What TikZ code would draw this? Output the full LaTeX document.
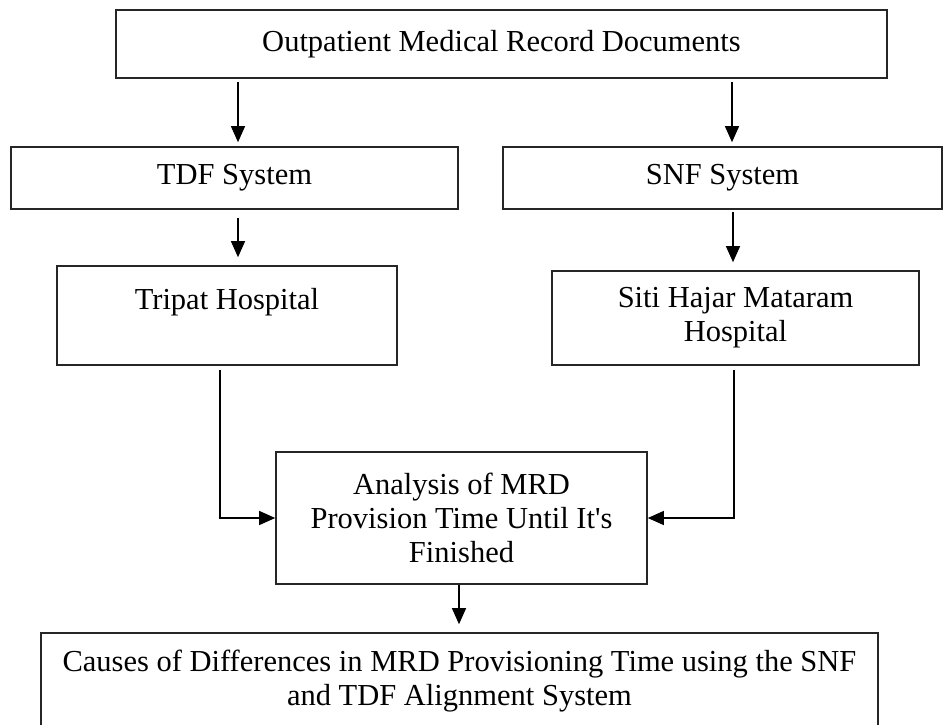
\documentclass[tikz,border=0pt]{standalone}
\usepackage{fontspec}
\setmainfont{Liberation Serif}
\usetikzlibrary{arrows.meta, positioning}

\begin{document}
\begin{tikzpicture}[x=1pt, y=-1pt,
    box/.style={draw=black!85, line width=1.6pt, align=center, inner sep=0pt,
                font=\fontsize{30.5}{34}\selectfont},
    arr/.style={draw=black, line width=1.2pt, -{Triangle[length=16pt,width=14pt]}}]
    \useasboundingbox (0,0) rectangle (944,724);
    \clip (0,0) rectangle (944,724);
    % boxes
    \node [box, minimum width=771pt, minimum height=68pt] (docs) at (501.5,44) {Outpatient Medical Record Documents};
    \node [box, minimum width=447pt, minimum height=62pt] (tdf) at (234.5,178) {TDF System};
    \node [box, minimum width=439pt, minimum height=62pt] (snf) at (722.5,178) {SNF System};
    \node [box, minimum width=340pt, minimum height=99pt] (tripat) at (227,315.5) {Tripat Hospital\\ \mbox{}};
    \node [box, minimum width=367pt, minimum height=94pt] (siti) at (735.5,318) {Siti Hajar Mataram\\Hospital};
    \node [box, minimum width=371pt, minimum height=132pt] (analysis) at (461.5,518) {Analysis of MRD\\Provision Time Until It\textquotesingle s\\Finished};
    \node [box, minimum width=837pt, minimum height=96pt] (causes) at (459.5,681) {Causes of Differences in MRD Provisioning Time using the SNF\\and TDF Alignment System};
    % connectors
    \draw [arr, shorten >=4pt] ([xshift=3.5pt,yshift=-3pt]docs.south -| tdf.north) -- ([xshift=3.5pt]tdf.north);
    \draw [arr, shorten >=4pt] ([xshift=9.5pt,yshift=-3pt]docs.south -| snf.north) -- ([xshift=9.5pt]snf.north);
    \draw [arr, shorten >=8pt] ([xshift=3.5pt,yshift=-8pt]tdf.south) -- ([xshift=3.5pt]tdf.south |- tripat.north);
    \draw [arr, shorten >=8pt] ([xshift=10.5pt,yshift=-2pt]snf.south) -- ([xshift=10.5pt]snf.south |- siti.north);
    \draw [arr] ([xshift=-7pt,yshift=-4pt]tripat.south) |- (analysis.west);
    \draw [arr] ([xshift=-1.5pt,yshift=-4pt]siti.south) |- (analysis.east);
    \draw [arr, shorten >=8pt] ([xshift=-2.5pt]analysis.south) -- ([xshift=-2.5pt]analysis.south |- causes.north);
\end{tikzpicture}
\end{document}
